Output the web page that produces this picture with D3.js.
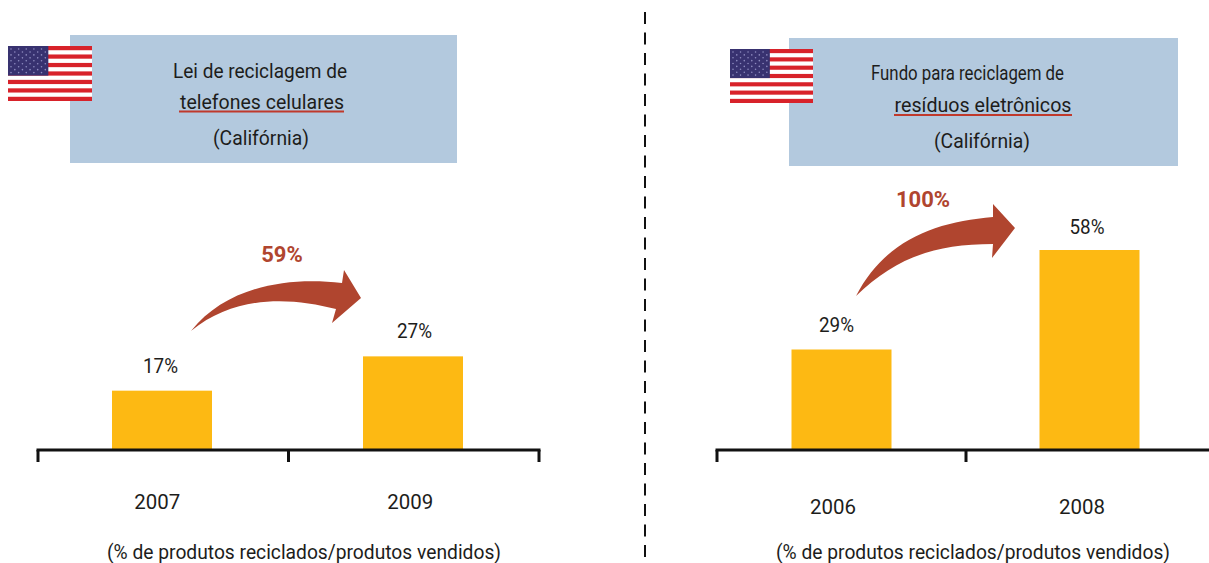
<!DOCTYPE html>
<html><head><meta charset="utf-8">
<script src="https://cdnjs.cloudflare.com/ajax/libs/d3/7.8.5/d3.min.js"></script>
<style>html,body{margin:0;padding:0;background:#fff;overflow:hidden}
text{font-family:Roboto,"Noto Sans",sans-serif;fill:#1d1d1b}</style></head><body>
<svg id="c" width="1209" height="563"></svg>
<script>
const leftYears = ["2007","2009"];
const leftValues = [17,27];
const rightYears = ["2006","2008"];
const rightValues = [29,58];
const leftTitle = ["Lei de reciclagem de","telefones celulares","(Califórnia)"];
const rightTitle = ["Fundo para reciclagem de","resíduos eletrônicos","(Califórnia)"];
const leftGrowth = "59%";
const rightGrowth = "100%";
const footnote = "(% de produtos reciclados/produtos vendidos)";

const svg = d3.select("#c");
const defs = svg.append("defs");
defs.append("filter").attr("id","soft").attr("x","0").attr("y","0").attr("width","1").attr("height","1")
  .append("feGaussianBlur").attr("stdDeviation",0.7);

const y = d3.scaleLinear().domain([0,58]).range([449,250]);
const C = {bar:"#fdb913",box:"#b3c9de",red:"#b0452f",under:"#c0392b"};

function flag(g,x0,y0,w,h){
  const clipId="clip"+x0;
  defs.append("clipPath").attr("id",clipId).append("rect").attr("x",x0).attr("y",y0).attr("width",w).attr("height",h);
  const outer=g.append("g").attr("clip-path",`url(#${clipId})`);
  const f=outer.append("g").attr("filter","url(#soft)");
  const sy=d3.scaleBand().domain(d3.range(13)).range([y0,y0+h]);
  f.append("rect").attr("x",x0).attr("y",y0).attr("width",w).attr("height",h).attr("fill","#d8232a");
  f.selectAll("rect.s").data(d3.range(13).filter(d=>d%2)).join("rect").attr("class","s")
    .attr("x",x0-3).attr("y",d=>sy(d)).attr("width",w+6).attr("height",sy.bandwidth())
    .attr("fill","#ffffff");
  f.append("rect").attr("x",x0-3).attr("y",y0-3).attr("width",w*0.48+3).attr("height",sy.bandwidth()*7+3).attr("fill","#37316f");
  const cols=d3.range(10),rows=d3.range(9);
  const sx=d3.scalePoint().domain(cols).range([x0+3,x0+w*0.48-3]);
  const syy=d3.scalePoint().domain(rows).range([y0+3,y0+sy.bandwidth()*7-3]);
  const st=[];rows.forEach(r=>cols.forEach(c=>{if((r+c)%2===0)st.push([c,r]);}));
  f.selectAll("circle").data(st).join("circle").attr("cx",d=>sx(d[0])).attr("cy",d=>syy(d[1])).attr("r",0.8).attr("fill","#8f8cc0");
}

function panel(o){
  const g=svg.append("g");
  g.append("rect").attr("x",o.box[0]).attr("y",o.box[1]).attr("width",o.box[2]).attr("height",o.box[3]).attr("fill",C.box);
  flag(g,...o.flag);
  g.selectAll("text.t").data(o.title).join("text").attr("class","t")
    .attr("x",(d,i)=>o.tx[i]).attr("y",(d,i)=>o.ty[i])
    .attr("text-anchor","middle").attr("font-size",20).attr("font-weight",400)
    .attr("textLength",(d,i)=>o.tl[i]).attr("lengthAdjust","spacingAndGlyphs").text(d=>d);
  g.append("line").attr("x1",o.under[0]).attr("x2",o.under[1]).attr("y1",o.under[2]).attr("y2",o.under[2])
    .attr("stroke",C.under).attr("stroke-width",2);
  const x=d3.scaleBand().domain(o.years).range(o.axis);
  const bw=100;
  g.selectAll("rect.b").data(o.values).join("rect").attr("class","b")
    .attr("x",(d,i)=>x(o.years[i])+x.bandwidth()/2-bw/2+o.barDx[i]).attr("width",bw)
    .attr("y",d=>y(d)).attr("height",d=>y(0)-y(d)).attr("fill",C.bar);
  g.selectAll("text.v").data(o.values).join("text").attr("class","v")
    .attr("x",(d,i)=>x(o.years[i])+x.bandwidth()/2+o.labelDx[i]).attr("y",(d,i)=>y(d)+o.labelDy[i])
    .attr("text-anchor","middle").attr("font-size",20).attr("font-weight",400)
    .attr("textLength",35).attr("lengthAdjust","spacingAndGlyphs").text(d=>d+"%");
  const ax=g.append("g").attr("fill","none").attr("stroke","#111").attr("stroke-width",3);
  ax.append("line").attr("x1",o.axis[0]-1.5).attr("x2",o.axis[1]+1.5).attr("y1",450).attr("y2",450);
  [o.axis[0],(o.axis[0]+o.axis[1])/2,o.axis[1]].forEach(t=>{
    ax.append("line").attr("x1",t).attr("x2",t).attr("y1",450).attr("y2",462);
  });
  g.selectAll("text.y").data(o.years).join("text").attr("class","y")
    .attr("x",(d,i)=>x(d)+x.bandwidth()/2+o.yearDx[i]).attr("y",o.yearY)
    .attr("text-anchor","middle").attr("font-size",20).attr("font-weight",400)
    .attr("textLength",46).attr("lengthAdjust","spacingAndGlyphs").text(d=>d);
  g.append("text").attr("x",o.foot[0]).attr("y",o.foot[1]).attr("text-anchor","middle")
    .attr("font-size",20).attr("font-weight",400).attr("textLength",o.foot[2]).attr("lengthAdjust","spacingAndGlyphs").text(footnote);
  const p=d3.path(),A=o.arrow;
  p.moveTo(...A.tail);
  p.bezierCurveTo(...A.top);
  p.lineTo(...A.h1);p.lineTo(...A.tip);p.lineTo(...A.h2);p.lineTo(...A.inner);
  p.bezierCurveTo(...A.bot);
  p.closePath();
  g.append("path").attr("d",p.toString()).attr("fill",C.red);
  g.append("text").attr("x",o.growth[0]).attr("y",o.growth[1]).attr("text-anchor","middle")
    .attr("font-size",o.growth[3]).attr("font-weight",700).style("fill",C.red).text(o.growth[2]);
}

panel({box:[70,35,387,128],flag:[8,46,84,55],title:leftTitle,tx:[260,262,261],ty:[78,109,145],tl:[174,164,96],
  under:[179,344,111.5],years:leftYears,values:leftValues,axis:[38,539],barDx:[-1.25,-0.75],
  labelDx:[-2.75,0.75],labelDy:[-17.5,-18.5],yearDx:[-6,-3.5],yearY:509,
  foot:[304,559,394],growth:[282,262,leftGrowth,22],
  arrow:{tail:[191,331],top:[225,288,285,276,342,283],h1:[344,270],tip:[361,298],h2:[332,323],inner:[336,309],bot:[290,297,235,295,191,331]}});
panel({box:[789,38,389,128],flag:[730,49,83,54],title:rightTitle,tx:[967.5,983,982],ty:[80,112,148],tl:[193,177,96],
  under:[894,1072,115],years:rightYears,values:rightValues,axis:[717,1215],barDx:[0,-1],
  labelDx:[-5,-3.5],labelDy:[-18,-16.5],yearDx:[-8.5,-8.5],yearY:514,
  foot:[973,559,394],growth:[923,207,rightGrowth,22],
  arrow:{tail:[856,296],top:[885,240,935,222,993,217],h1:[993,204],tip:[1015,228],h2:[992,258],inner:[993,244],bot:[935,244,895,258,856,296]}});

svg.append("line").attr("x1",645).attr("x2",645).attr("y1",12).attr("y2",560)
  .attr("stroke","#111").attr("stroke-width",2).attr("stroke-dasharray","12 8.5");
</script></body></html>
